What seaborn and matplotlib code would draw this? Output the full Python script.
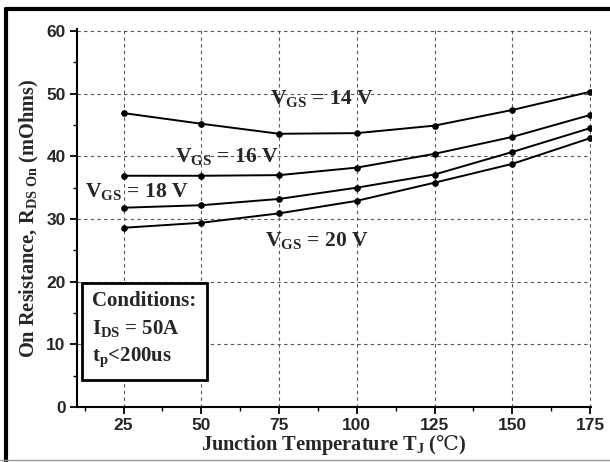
import numpy as np
import pandas as pd
import seaborn as sns
import matplotlib.pyplot as plt
from matplotlib.lines import Line2D

# values
temps = [25, 50, 75, 100, 125, 150, 175]
r_vgs14 = [46.9, 45.2, 43.6, 43.7, 44.9, 47.4, 50.3]
r_vgs16 = [36.9, 36.9, 37.0, 38.2, 40.4, 43.1, 46.6]
r_vgs18 = [31.8, 32.2, 33.2, 35.0, 37.1, 40.7, 44.5]
r_vgs20 = [28.6, 29.4, 30.9, 32.9, 35.8, 38.8, 42.9]
vgs_names = ['14 V', '16 V', '18 V', '20 V']
xticks = [25, 50, 75, 100, 125, 150, 175]
yticks = [0, 10, 20, 30, 40, 50, 60]

df = pd.DataFrame({
    'T': temps * 4,
    'R': r_vgs14 + r_vgs16 + r_vgs18 + r_vgs20,
    'VGS': np.repeat(vgs_names, len(temps)),
})

sns.set_style('white')
plt.rcParams['font.family'] = ['Liberation Serif', 'DejaVu Serif']
plt.rcParams['mathtext.fontset'] = 'custom'
plt.rcParams['mathtext.rm'] = 'Liberation Serif:bold'
plt.rcParams['mathtext.it'] = 'Liberation Serif:bold'
plt.rcParams['mathtext.bf'] = 'Liberation Serif:bold'
plt.rcParams['mathtext.sf'] = 'DejaVu Serif'  # has the degree-celsius sign

fig = plt.figure(figsize=(6.1, 4.62), dpi=100)
ax = fig.add_axes([0.126, 0.119, 0.843, 0.818])

sns.lineplot(data=df, x='T', y='R', hue='VGS', palette=['black'] * 4,
             marker='o', markersize=4, markeredgecolor='black',
             linewidth=1.4, legend=False, ax=ax)

ax.set_xlim(10, 175.3)
ax.set_ylim(0, 60.3)
ax.set_xticks(xticks)
ax.set_yticks(yticks)
ax.set_xticks(np.arange(12.5, 175, 25), minor=True)
ax.set_yticks(np.arange(5, 60, 10), minor=True)
ax.grid(True, which='major', color='#555555', linestyle=(0, (3, 3)), linewidth=0.8)
ax.tick_params(which='major', direction='out', length=5, width=1.3, color='black',
               labelsize=12.5, pad=3, bottom=True, left=True)
ax.tick_params(which='minor', direction='out', length=3, width=1.0, color='black',
               bottom=True, left=True)
for lbl in ax.get_xticklabels() + ax.get_yticklabels():
    lbl.set_family(['Liberation Sans', 'DejaVu Sans'])
    lbl.set_fontweight('bold')

sns.despine(ax=ax)
for sp in ['left', 'bottom']:
    ax.spines[sp].set_linewidth(1.5)
    ax.spines[sp].set_color('black')

ax.set_xlabel(r'Junction Temperature $\mathrm{T_J}$ ($\mathsf{℃}$)', fontsize=14.7,
              fontweight='bold', labelpad=0)
ax.set_ylabel(r'On Resistance, $\mathrm{R_{DS\ On}}$ (mOhms)', fontsize=14.7,
              fontweight='bold', labelpad=4)

lab_kw = dict(fontsize=15.5, fontweight='bold', va='center', ha='left')
ax.text(72.1, 49.2, r'$\mathrm{V_{GS}}$ = 14 V', **lab_kw)
ax.text(41.5, 40.0, r'$\mathrm{V_{GS}}$ = 16 V', **lab_kw)
ax.text(12.6, 34.4, r'$\mathrm{V_{GS}}$ = 18 V', **lab_kw)
ax.text(70.4, 26.5, r'$\mathrm{V_{GS}}$ = 20 V', **lab_kw)

ax.text(15.0, 12.3, 'Conditions:\n' + r'$\mathrm{I_{DS}}$ = 50A' + '\n' + r'$\mathrm{t_p}$<200us',
        fontsize=15, fontweight='bold', va='center', ha='left', linespacing=1.45,
        bbox=dict(boxstyle='square,pad=0.5', facecolor='white', edgecolor='black',
                  linewidth=2))

# outer frame of the picture
fig.add_artist(Line2D([0.0098, 0.0098], [0.0, 0.981], color='black', linewidth=3,
                      transform=fig.transFigure))
fig.add_artist(Line2D([0.0098, 1.0], [0.981, 0.981], color='black', linewidth=3,
                      transform=fig.transFigure))
fig.add_artist(Line2D([0.0, 1.0], [0.004, 0.004], color='#999999', linewidth=1,
                      transform=fig.transFigure))

fig.savefig('out.png', dpi=100)
